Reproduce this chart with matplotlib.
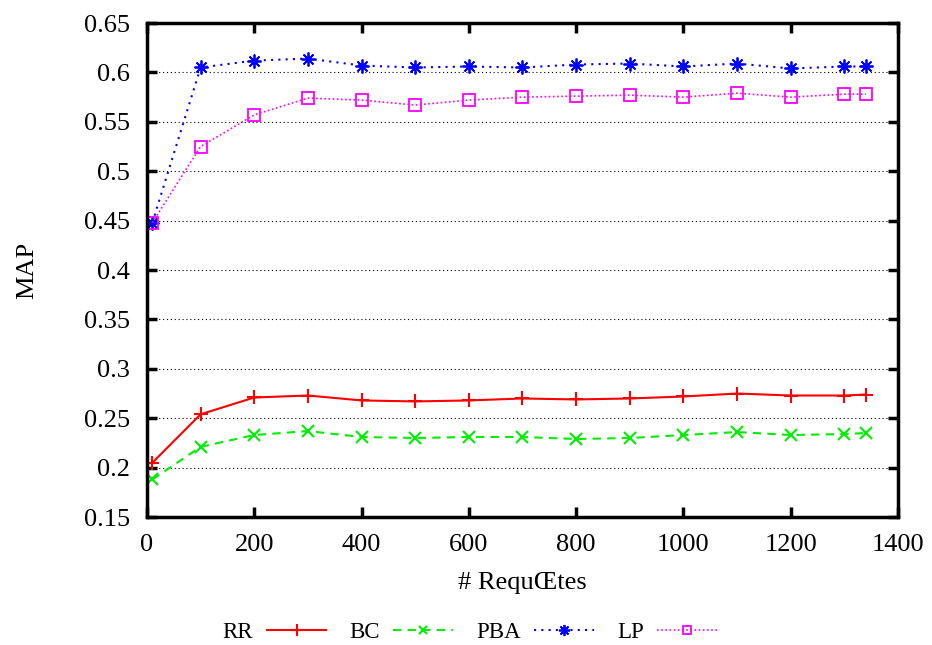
import numpy as np
import matplotlib.pyplot as plt

plt.rcParams['font.family'] = ['Liberation Serif', 'DejaVu Serif']

# nombre de requetes
x = [10, 100, 200, 300, 400, 500, 600, 700, 800, 900, 1000, 1100, 1200, 1300, 1340]

rr = [0.205, 0.254, 0.271, 0.273, 0.268, 0.267, 0.268, 0.270, 0.269, 0.270, 0.272, 0.275, 0.273, 0.273, 0.274]
bc = [0.188, 0.221, 0.233, 0.237, 0.231, 0.230, 0.231, 0.231, 0.229, 0.230, 0.233, 0.236, 0.233, 0.234, 0.235]
pba = [0.448, 0.605, 0.612, 0.614, 0.607, 0.605, 0.606, 0.605, 0.608, 0.609, 0.606, 0.609, 0.604, 0.606, 0.606]
lp = [0.448, 0.525, 0.557, 0.574, 0.572, 0.567, 0.572, 0.575, 0.576, 0.577, 0.575, 0.579, 0.575, 0.578, 0.578]

fig = plt.figure(figsize=(9.32, 6.45), dpi=100)
ax = fig.add_axes([0.1577, 0.1984, 0.8058, 0.7659])

ax.plot(x, rr, color='#ff0000', lw=1.5, ls='-', marker='+', ms=10, mew=1.5, label='RR')
ax.plot(x, bc, color='#00ee00', lw=1.5, ls=(0, (4, 3)), marker='x', ms=8, mew=1.5, label='BC')
ax.plot(x, pba, color='#0000ff', lw=1.5, ls=(0, (1, 2.5)), marker=(8, 2, 0), ms=10, mew=1.3, label='PBA')
ax.plot(x, lp, color='#ff00ff', lw=1.2, ls=(0, (1, 1.5)), marker='s', ms=8, mfc='none', mew=1.3, label='LP')

ax.set_xlim(0, 1400)
ax.set_ylim(0.15, 0.65)
ax.set_xticks(np.arange(0, 1401, 200))
ax.set_yticks(np.arange(0.15, 0.651, 0.05))
ax.set_yticklabels(['0.15', '0.2', '0.25', '0.3', '0.35', '0.4', '0.45', '0.5', '0.55', '0.6', '0.65'])
ax.yaxis.grid(True, color='black', ls=(0, (1, 2.5)), lw=0.8)
ax.tick_params(direction='in', length=7, width=2.5, labelsize=19, top=True, right=True)
ax.tick_params(axis='y', pad=12)
ax.tick_params(axis='x', pad=12)
for s in ax.spines.values():
    s.set_linewidth(2.5)

ax.set_xlabel('# RequŒtes', fontsize=19)
ax.set_ylabel('MAP', fontsize=19)
ax.xaxis.set_label_coords(0.5, -0.111)
ax.yaxis.set_label_coords(-0.145, 0.5)

fig.legend(*ax.get_legend_handles_labels(), loc='center', bbox_to_anchor=(0.504, 0.02),
           ncol=4, frameon=False, markerfirst=False, handlelength=2.6,
           columnspacing=1.0, handletextpad=0.6, fontsize=16.5, markerscale=0.8)

fig.savefig('out.png', dpi=100)
